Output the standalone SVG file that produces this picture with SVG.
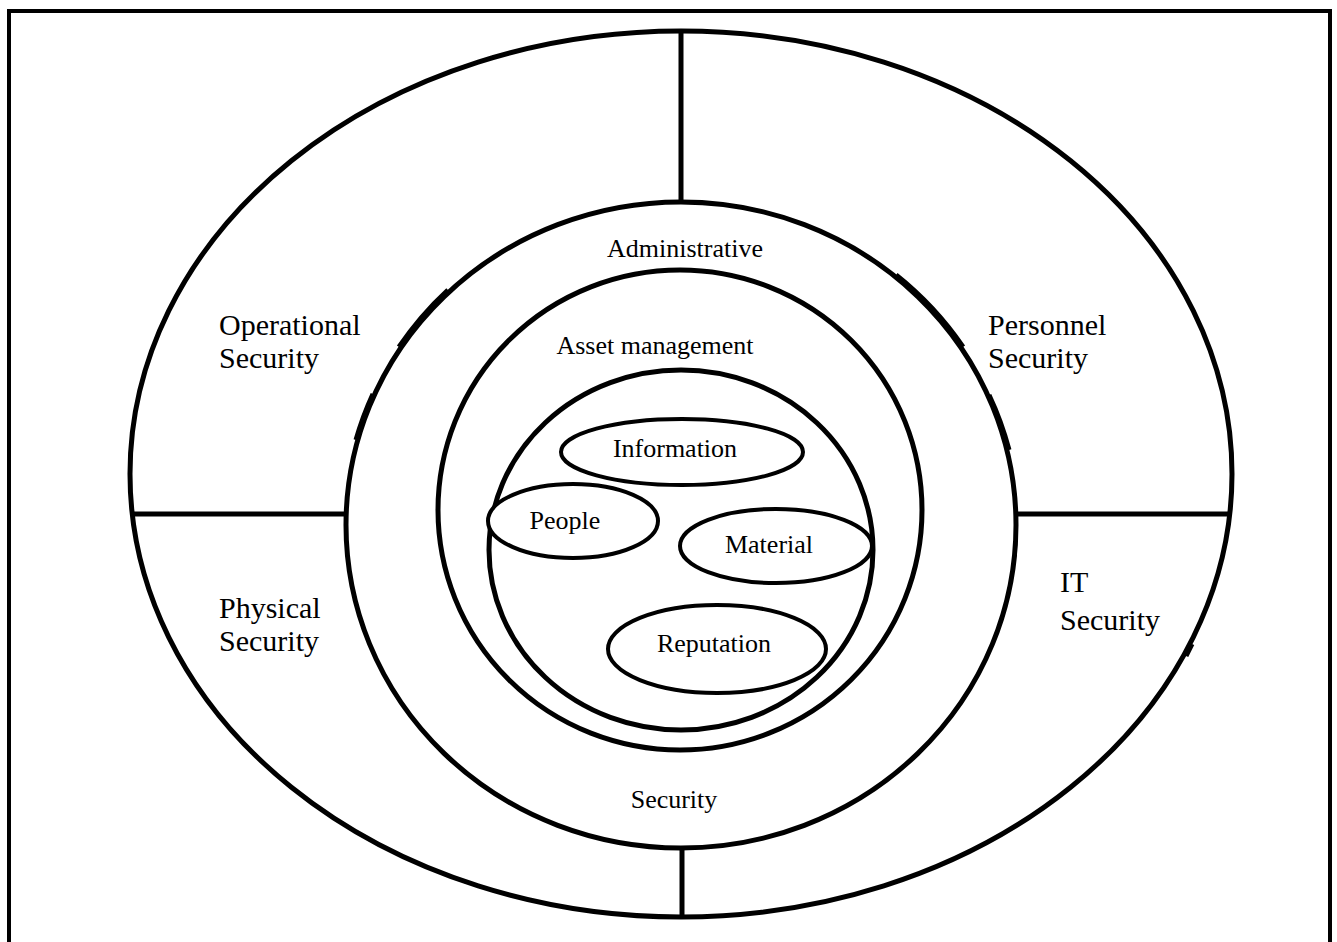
<svg xmlns="http://www.w3.org/2000/svg" width="1337" height="942" viewBox="0 0 1337 942">
<style>
.ring{fill:none;stroke:#000;stroke-width:5}
.item{fill:#fff;stroke:#000;stroke-width:4}
.ln{stroke:#000;stroke-width:5;fill:none}
text{font-family:"Liberation Serif","Times New Roman",serif;fill:#000}
.big{font-size:30px}
.mid{font-size:26px}
</style>
<rect x="0" y="0" width="1337" height="942" fill="#fff"/>
<rect x="9" y="11" width="1321" height="945" fill="none" stroke="#000" stroke-width="4"/>
<g id="outer-ring">
<ellipse class="ring" cx="681" cy="474" rx="551" ry="443"/>
<path class="ln" d="M1192,644 L1186,656" stroke-width="5"/>
</g>
<g id="connectors">
<line class="ln" x1="681" y1="31" x2="681" y2="202"/>
<line class="ln" x1="682" y1="848" x2="682" y2="917"/>
<line class="ln" x1="131" y1="514" x2="346" y2="514"/>
<line class="ln" x1="1016" y1="514" x2="1231" y2="514"/>
</g>
<g id="security-ring">
<ellipse class="ring" cx="681" cy="525" rx="335" ry="323"/>
<path class="ln" d="M399,347 A337 325 0 0 1 448,290"/>
<path class="ln" d="M356,440 A337 325 0 0 1 373,394"/>
<path class="ln" d="M896,275 A337 325 0 0 1 963,347"/>
<path class="ln" d="M989,395 A337 325 0 0 1 1009,450"/>
</g>
<g id="asset-ring">
<ellipse class="ring" cx="680" cy="510" rx="242" ry="240"/>
</g>
<g id="asset-circle">
<ellipse class="ring" cx="681" cy="550" rx="192" ry="180"/>
</g>
<g id="information">
<ellipse class="item" cx="682" cy="452" rx="121" ry="33"/>
<text class="mid" x="675" y="457" text-anchor="middle">Information</text>
</g>
<g id="people">
<ellipse class="item" cx="573" cy="521" rx="85" ry="37"/>
<text class="mid" x="565" y="529" text-anchor="middle">People</text>
</g>
<g id="material">
<ellipse class="item" cx="776" cy="546" rx="96" ry="37"/>
<text class="mid" x="769" y="553" text-anchor="middle">Material</text>
</g>
<g id="reputation">
<ellipse class="item" cx="717" cy="649" rx="109" ry="44"/>
<text class="mid" x="714" y="652" text-anchor="middle">Reputation</text>
</g>
<g id="labels">
<text class="mid" x="685" y="257" text-anchor="middle">Administrative</text>
<text class="mid" x="655" y="354" text-anchor="middle">Asset management</text>
<text class="mid" x="674" y="808" text-anchor="middle">Security</text>
</g>
<g id="operational">
<text class="big" x="219" y="335">Operational</text>
<text class="big" x="219" y="368">Security</text>
</g>
<g id="personnel">
<text class="big" x="988" y="335">Personnel</text>
<text class="big" x="988" y="368">Security</text>
</g>
<g id="physical">
<text class="big" x="219" y="618">Physical</text>
<text class="big" x="219" y="651">Security</text>
</g>
<g id="it">
<text class="big" x="1060" y="592">IT</text>
<text class="big" x="1060" y="630">Security</text>
</g>
</svg>
